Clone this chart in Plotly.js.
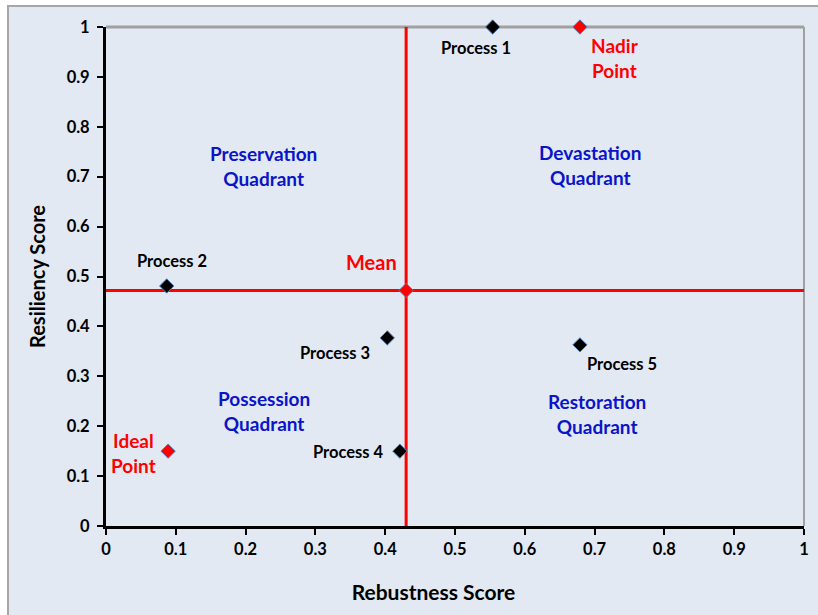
<!DOCTYPE html>
<html><head><meta charset="utf-8">
<script src="https://cdn.plot.ly/plotly-3.0.1.min.js"></script>
<style>html,body{margin:0;padding:0;background:#fff}</style>
</head><body>
<div id="chart" style="width:818px;height:615px"></div>
<script>
// Data
const processNames = ["Process 1","Process 2","Process 3","Process 4","Process 5"];
const processRobustness = [0.554, 0.087, 0.403, 0.421, 0.679];
const processResiliency = [1.0, 0.481, 0.377, 0.150, 0.363];
const idealPoint = {x: 0.089, y: 0.150};
const nadirPoint = {x: 0.679, y: 1.0};
const meanRobustness = 0.430;
const meanResiliency = 0.472;
const axisTicks = [0,0.1,0.2,0.3,0.4,0.5,0.6,0.7,0.8,0.9,1];

// Label positions (text annotations)
const processLabelX = [0.530, 0.095, 0.328, 0.348, 0.739];
const processLabelY = [0.958, 0.531, 0.347, 0.148, 0.325];
const quadrantNames = ["Preservation<br>Quadrant","Devastation<br>Quadrant","Possession<br>Quadrant","Restoration<br>Quadrant"];
const quadrantX = [0.226, 0.693, 0.226, 0.703];
const quadrantY = [0.721, 0.723, 0.230, 0.224];

const FONT = "Lato, 'Open Sans', sans-serif";
const markerLine = {color: '#4F81BD', width: 1};

const traces = [
  {x: [0, 1], y: [meanResiliency, meanResiliency], mode: 'lines', line: {color: '#FF0000', width: 3}, hoverinfo: 'skip', cliponaxis: false},
  {x: [meanRobustness, meanRobustness], y: [0, 1], mode: 'lines', line: {color: '#FF0000', width: 3}, hoverinfo: 'skip', cliponaxis: false},
  {x: processRobustness, y: processResiliency, mode: 'markers', text: processNames, cliponaxis: false,
   marker: {symbol: 'diamond', size: 11, color: '#000000', line: markerLine}},
  {x: [idealPoint.x, nadirPoint.x], y: [idealPoint.y, nadirPoint.y], mode: 'markers', cliponaxis: false,
   marker: {symbol: 'diamond', size: 11, color: '#FF0000', line: markerLine}},
  {x: [meanRobustness], y: [meanResiliency], mode: 'markers', cliponaxis: false,
   marker: {symbol: 'diamond', size: 11, color: '#FF0000', line: markerLine}}
];

const annotations = [];
processNames.forEach((n, i) => annotations.push({
  x: processLabelX[i], y: processLabelY[i], text: '<b>' + n + '</b>', showarrow: false,
  font: {family: FONT, size: 16.5, color: '#000000'}
}));
quadrantNames.forEach((n, i) => annotations.push({
  x: quadrantX[i], y: quadrantY[i], text: '<b>' + n + '</b>', showarrow: false,
  font: {family: FONT, size: 19, color: '#0A14C8'}
}));
annotations.push({x: 0.729, y: 0.938, text: '<b>Nadir<br>Point</b>', showarrow: false, font: {family: FONT, size: 19, color: '#FF0000'}});
annotations.push({x: 0.040, y: 0.146, text: '<b>Ideal<br>Point</b>', showarrow: false, font: {family: FONT, size: 19, color: '#FF0000'}});
annotations.push({x: 0.380, y: 0.529, text: '<b>Mean</b>', showarrow: false, font: {family: FONT, size: 20, color: '#FF0000'}});

const layout = {
  width: 818, height: 615,
  margin: {l: 106, r: 14, t: 27, b: 89},
  paper_bgcolor: '#FFFFFF',
  plot_bgcolor: '#ECF0F8',
  showlegend: false,
  font: {family: FONT, color: '#000000'},
  xaxis: {
    range: [0, 1], tickvals: axisTicks, ticktext: axisTicks.map(String),
    showgrid: false, zeroline: false, showline: true, linecolor: '#000000', linewidth: 3,
    ticks: 'outside', ticklen: 6, tickwidth: 2, tickcolor: '#000000',
    tickfont: {family: FONT, size: 16.5, weight: 'bold'},
    title: {text: '<b>Rebustness Score</b>' + '&nbsp;'.repeat(8), font: {family: FONT, size: 21}, standoff: 28},
    automargin: false, fixedrange: true
  },
  yaxis: {
    range: [0, 1], tickvals: axisTicks, ticktext: axisTicks.map(String),
    showgrid: false, zeroline: false, showline: true, linecolor: '#000000', linewidth: 3,
    ticks: 'outside', ticklen: 6, tickwidth: 2, tickcolor: '#000000', ticklabelstandoff: 4,
    tickfont: {family: FONT, size: 16.5, weight: 'bold'},
    title: {text: '<b>Resiliency Score</b>', font: {family: FONT, size: 20}, standoff: 16},
    automargin: false, fixedrange: true
  },
  shapes: [
    {type: 'rect', xref: 'paper', yref: 'paper', x0: -0.1404, x1: 1.1, y0: -0.3, y1: 1.042,
     fillcolor: '#E2E9F3', line: {color: '#A6A6A6', width: 2}, layer: 'below'},
    {type: 'line', xref: 'paper', yref: 'paper', x0: 0, x1: 1, y0: 1, y1: 1, line: {color: '#A0A0A0', width: 3}, layer: 'below'},
    {type: 'line', xref: 'paper', yref: 'paper', x0: 1, x1: 1, y0: 0, y1: 1, line: {color: '#A0A0A0', width: 2}, layer: 'below'}
  ],
  annotations: annotations
};

Plotly.newPlot('chart', traces, layout, {displayModeBar: false, staticPlot: true});
</script>
</body></html>
